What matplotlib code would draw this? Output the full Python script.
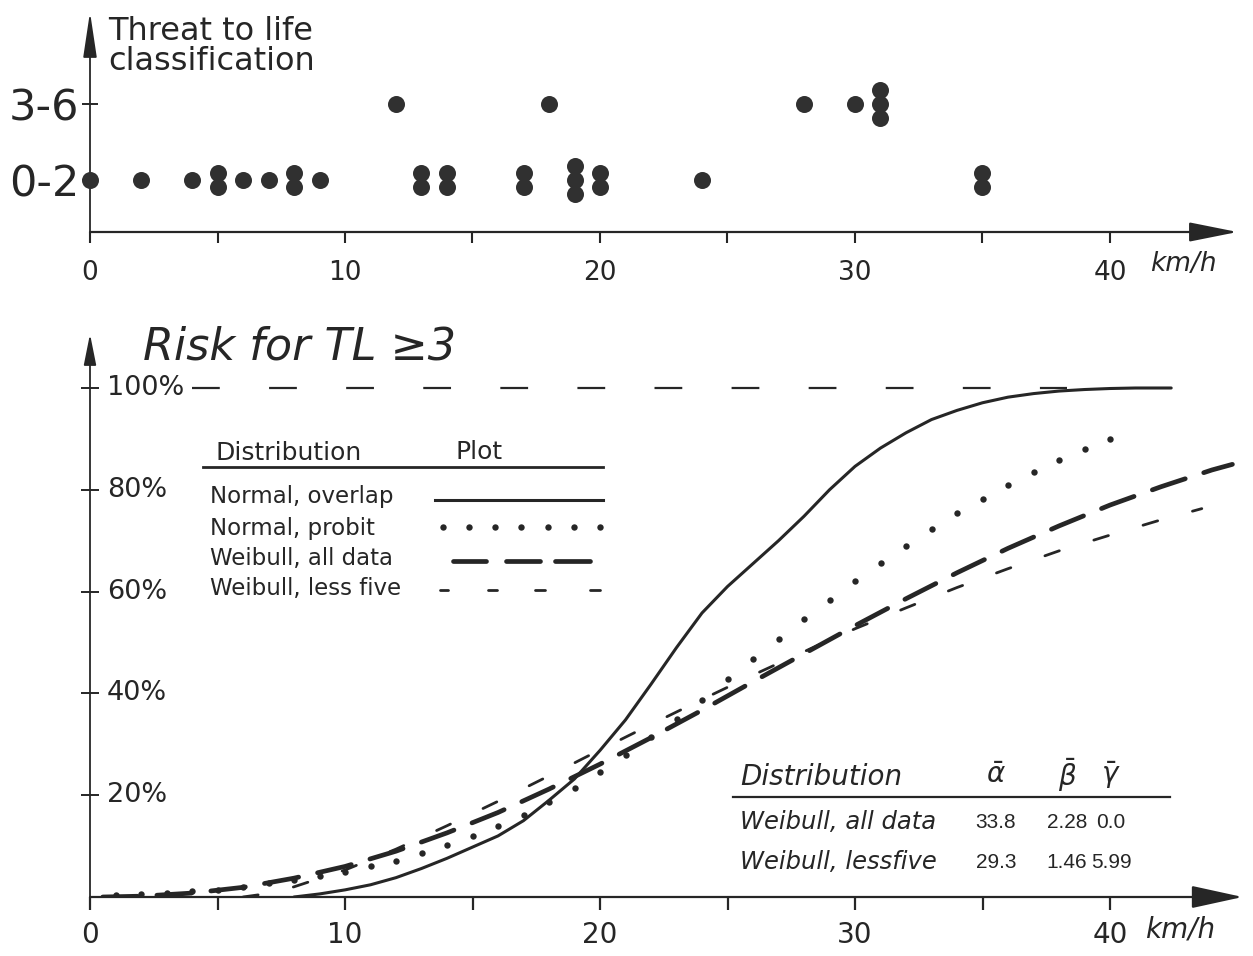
import matplotlib
matplotlib.use('Agg')
import matplotlib.pyplot as plt
from matplotlib.lines import Line2D
from matplotlib.ticker import FixedLocator
from collections import Counter

W, H = 1253, 956
plt.rcParams['font.family'] = ['DejaVu Sans']
plt.rcParams['lines.scale_dashes'] = False
INK = '#262626'

# ---------------- data ----------------
# top panel: threat-to-life class per collision speed (km/h)
tl_classes = ['0-2', '3-6']
speeds_low = [0, 2, 4, 5, 5, 6, 7, 8, 8, 9, 13, 13, 14, 14, 17, 17,
              19, 19, 19, 20, 20, 24, 35, 35]
speeds_high = [12, 18, 28, 30, 31, 31, 31]

x_ticks = [0, 10, 20, 30, 40]
x_tick_labels = ['0', '10', '20', '30', '40']
x_minor_ticks = [5, 15, 25, 35]
risk_ticks = [20, 40, 60, 80, 100]
risk_tick_labels = ['20%', '40%', '60%', '80%', '100%']

# bottom panel: risk for TL >= 3 (%)
overlap_x = [8, 9, 10, 11, 12, 13, 14, 15, 16, 17, 18, 19, 20, 21, 22, 23, 24,
             25, 26, 27, 28, 29, 30, 31, 32, 33, 34, 35, 36, 37, 38, 39, 40,
             41, 42.4]
overlap_y = [0, 0.6, 1.4, 2.4, 3.8, 5.6, 7.6, 9.8, 12.0, 15.0, 19.0, 23.2,
             28.8, 34.8, 41.8, 49.0, 55.8, 61.0, 65.5, 70.0, 74.8, 80.0, 84.6,
             88.2, 91.2, 93.8, 95.6, 97.1, 98.2, 98.9, 99.4, 99.7, 99.9, 100,
             100]

probit_x = [1, 2, 3, 4, 5, 6, 7, 8, 9, 10, 11, 12, 13, 14, 15, 16, 17, 18, 19,
            20, 21, 22, 23, 24, 25, 26, 27, 28, 29, 30, 31, 32, 33, 34, 35, 36,
            37, 38, 39, 40]
probit_y = [0.3, 0.5, 0.8, 1.1, 1.4, 2.0, 2.7, 3.3, 4.2, 5.0, 6.0, 7.1, 8.6,
            10.2, 12.0, 13.9, 16.2, 18.7, 21.5, 24.6, 27.9, 31.4, 35.0, 38.8,
            42.8, 46.8, 50.7, 54.6, 58.3, 62.0, 65.6, 69.0, 72.3, 75.4, 78.2,
            81.0, 83.5, 85.9, 88.1, 90.0]

weib_all_x = [0.5, 2, 4, 6, 8, 10, 12, 14, 16, 18, 20, 22, 24, 26, 28, 30, 32,
              34, 36, 38, 40, 42, 44, 44.8]
weib_all_y = [0.0, 0.16, 0.77, 1.9, 3.7, 6.0, 9.0, 12.6, 16.6, 21.2, 26.1,
              31.3, 36.7, 42.3, 47.8, 53.3, 58.6, 63.7, 68.5, 72.9, 77.0, 80.6,
              83.9, 85.0]

weib_less_x = [6, 7, 8, 10, 12, 14, 16, 18, 20, 22, 24, 26, 28, 30, 32, 34, 36,
               38, 40, 42, 43.6]
weib_less_y = [0, 0.7, 2.0, 5.3, 9.4, 14.0, 18.8, 23.8, 28.9, 33.9, 38.8, 43.6,
               48.2, 52.7, 56.8, 60.8, 64.5, 68.0, 71.1, 74.1, 76.3]

certain_x = [4.0, 38.3]
certain_y = [100, 100]

legend_labels = ['Normal, overlap', 'Normal, probit', 'Weibull, all data',
                 'Weibull, less five']
param_headers = ['Distribution', r'$\bar{\alpha}$', r'$\bar{\beta}$', r'$\bar{\gamma}$']
param_rows = ['Weibull, all data', 'Weibull, lessfive']
param_alpha = ['33.8', '29.3']
param_beta = ['2.28', '1.46']
param_gamma = ['0.0', '5.99']

# ---------------- figure ----------------
fig = plt.figure(figsize=(W / 100, H / 100), dpi=100)
fig.patch.set_facecolor('white')


def fx(px):
    return px / W


def fy(py):
    return 1 - py / H


def text_px(px, py, s, **kw):
    kw.setdefault('color', INK)
    fig.text(fx(px), fy(py), s, **kw)


def line_px(xs, ys, **kw):
    kw.setdefault('color', INK)
    fig.add_artist(Line2D([fx(v) for v in xs], [fy(v) for v in ys],
                          transform=fig.transFigure, **kw))


PX_PER_KMH = 25.5

# ---- top panel ----
# data y: 0 -> px 180, 1 -> px 104 (76 px per unit)
top_y_bottom = -(232 - 180) / 76
top_y_top = (180 - 12) / 76
ax1 = fig.add_axes([fx(90), fy(232), (1242 - 90) / W, (232 - 12) / H])
ax1.set_xlim(0, (1242 - 90) / PX_PER_KMH)
ax1.set_ylim(top_y_bottom, top_y_top)
for sp in ax1.spines.values():
    sp.set_visible(False)
ax1.patch.set_alpha(0)

stack_step = 14 / 76
for level, speeds in enumerate([speeds_low, speeds_high]):
    counts = Counter(speeds)
    xs, ys = [], []
    for spd, n in counts.items():
        for i in range(n):
            xs.append(spd)
            ys.append(level + (i - (n - 1) / 2) * stack_step)
    ax1.scatter(xs, ys, s=150, color='#303030', zorder=5, clip_on=False,
                linewidths=0)

ax1.annotate('', xy=(45.0, top_y_bottom), xytext=(0, top_y_bottom),
             xycoords='data',
             arrowprops=dict(arrowstyle='-|>,head_length=3.0,head_width=0.6',
                             mutation_scale=10, color=INK, lw=1.6,
                             shrinkA=0, shrinkB=0), annotation_clip=False)
ax1.annotate('', xy=(0, top_y_top), xytext=(0, top_y_bottom),
             xycoords='data',
             arrowprops=dict(arrowstyle='-|>,head_length=2.8,head_width=0.42',
                             mutation_scale=10, color=INK, lw=1.3,
                             shrinkA=0, shrinkB=0), annotation_clip=False)

ax1.xaxis.set_major_locator(FixedLocator(x_ticks))
ax1.set_xticklabels(x_tick_labels)
ax1.xaxis.set_minor_locator(FixedLocator(x_minor_ticks))
ax1.tick_params(axis='x', which='both', direction='out', length=8, width=1.5,
                color=INK, labelsize=19, labelcolor=INK, pad=12)
ax1.set_yticks([0, 1])
ax1.set_yticklabels(tl_classes)
ax1.tick_params(axis='y', direction='inout', length=12, width=1.4, color=INK,
                labelsize=31, labelcolor=INK, pad=2)
text_px(1150, 264, 'km/h', fontsize=19, style='italic', va='center', ha='left')
text_px(108, 31, 'Threat to life', fontsize=23, va='center', ha='left')
text_px(108, 61, 'classification', fontsize=23, va='center', ha='left')

# ---- bottom panel ----
PX_PER_PCT = (897 - 388) / 100
ax2 = fig.add_axes([fx(90), fy(897), (1245 - 90) / W, (897 - 330) / H])
ax2.set_xlim(0, (1245 - 90) / PX_PER_KMH)
ax2.set_ylim(0, (897 - 330) / PX_PER_PCT)
for sp in ax2.spines.values():
    sp.set_visible(False)
ax2.patch.set_alpha(0)

ax2.plot(certain_x, certain_y, color=INK, lw=1.6, dashes=(20, 35.5),
         solid_capstyle='butt')
ax2.plot(overlap_x, overlap_y, color=INK, lw=2.2, solid_capstyle='round')
ax2.plot(probit_x, probit_y, linestyle='none', marker='o', ms=4.6,
         color=INK, markeredgewidth=0)
ax2.plot(weib_all_x, weib_all_y, color=INK, lw=3.4, dashes=(25, 14),
         dash_capstyle='round')
ax2.plot(weib_less_x, weib_less_y, color=INK, lw=2.0, dashes=(11, 26),
         dash_capstyle='round')

ax2.annotate('', xy=(45.2, 0), xytext=(0, 0), xycoords='data',
             arrowprops=dict(arrowstyle='-|>,head_length=3.2,head_width=0.7',
                             mutation_scale=10, color=INK, lw=1.6,
                             shrinkA=0, shrinkB=0), annotation_clip=False)
ax2.annotate('', xy=(0, (897 - 334) / PX_PER_PCT), xytext=(0, 0),
             xycoords='data',
             arrowprops=dict(arrowstyle='-|>,head_length=1.9,head_width=0.38',
                             mutation_scale=10, color=INK, lw=1.3,
                             shrinkA=0, shrinkB=0), annotation_clip=False)

ax2.xaxis.set_major_locator(FixedLocator(x_ticks))
ax2.set_xticklabels(x_tick_labels)
ax2.xaxis.set_minor_locator(FixedLocator(x_minor_ticks))
ax2.tick_params(axis='x', which='both', direction='out', length=9, width=1.6,
                color=INK, labelsize=20, labelcolor=INK, pad=8)
ax2.set_yticks(risk_ticks)
ax2.set_yticklabels([])
ax2.tick_params(axis='y', direction='inout', length=13, width=1.4, color=INK)
for val, lab in zip(risk_ticks, risk_tick_labels):
    ax2.annotate(lab, xy=(0, val), xycoords='data', xytext=(12, 0),
                 textcoords='offset points', fontsize=19.5, color=INK,
                 ha='left', va='center', annotation_clip=False)
text_px(1145, 929, 'km/h', fontsize=20, style='italic', va='center', ha='left')
text_px(143, 347, 'Risk for TL \u22653', fontsize=32, style='italic',
        va='center', ha='left')

# ---- legend table (upper left) ----
text_px(215, 453, 'Distribution', fontsize=18, va='center', ha='left')
text_px(455, 452, 'Plot', fontsize=18, va='center', ha='left')
line_px([203, 603], [467, 467], lw=2.0)
row_y = [497, 528, 558, 588]
for lab, ry in zip(legend_labels, row_y):
    text_px(210, ry, lab, fontsize=16.5, va='center', ha='left')
line_px([435, 603], [500, 500], lw=2.2)
for dx in [443, 469, 495, 521, 548, 574, 600]:
    line_px([dx], [527], linestyle='none', marker='o', ms=4.6,
            markeredgewidth=0)
for a, b in [(453, 486), (506, 540), (555, 590)]:
    line_px([a, b], [561, 561], lw=3.4, solid_capstyle='round')
for a, b in [(440, 448), (488, 497), (535, 545), (590, 600)]:
    line_px([a, b], [590, 590], lw=2.0, solid_capstyle='round')

# ---- parameter table (lower right) ----
col_x = [740, 996, 1067, 1111]
text_px(col_x[0], 777, param_headers[0], fontsize=20, style='italic',
        va='center', ha='left')
for cx, hdr in zip(col_x[1:], param_headers[1:]):
    text_px(cx, 775, hdr, fontsize=20, va='center', ha='center')
line_px([733, 1170], [797, 797], lw=1.6)
num_font = ['Liberation Sans', 'DejaVu Sans']
for ry, name, a, b, g in zip([822, 862], param_rows, param_alpha, param_beta,
                             param_gamma):
    text_px(col_x[0], ry, name, fontsize=17.5, style='italic', va='center',
            ha='left')
    text_px(col_x[1], ry, a, fontsize=15, family=num_font, va='center',
            ha='center')
    text_px(col_x[2], ry, b, fontsize=15, family=num_font, va='center',
            ha='center')
    text_px(col_x[3], ry, g, fontsize=15, family=num_font, va='center',
            ha='center')

fig.savefig('out.png', dpi=100, facecolor='white')
